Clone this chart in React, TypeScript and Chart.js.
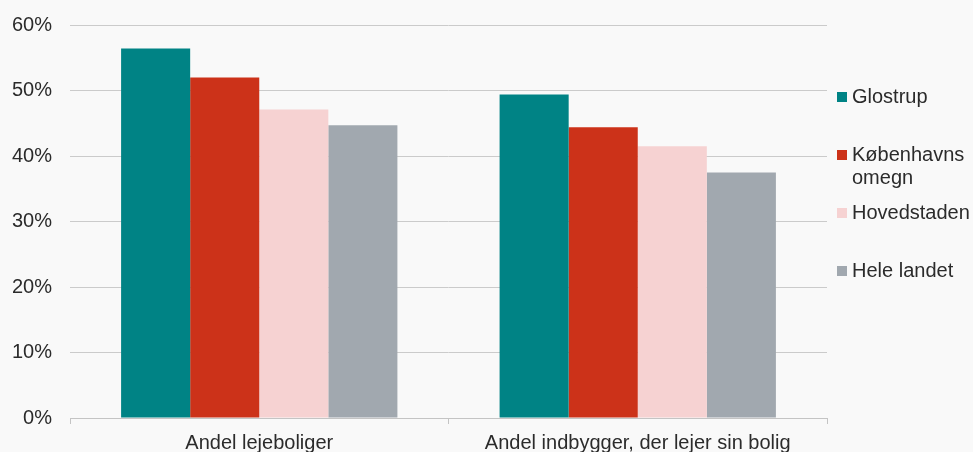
import React, { useEffect, useRef } from "react";
import { Chart, registerables } from "chart.js";

Chart.register(...registerables);

const categories = ["Andel lejeboliger", "Andel indbygger, der lejer sin bolig"];
const seriesNames = ["Glostrup", "Københavns omegn", "Hovedstaden", "Hele landet"];
const glostrup = [56.4, 49.4];
const kbhOmegn = [52.0, 44.4];
const hovedstaden = [47.1, 41.5];
const heleLandet = [44.7, 37.5];
const seriesColors = ["#008385", "#cc3219", "#f6d2d2", "#a1a8af"];
const yTicks = [0, 10, 20, 30, 40, 50, 60];

const FONT = "'Liberation Sans', Arial, Helvetica, sans-serif";
const TEXT = "#2b2b2b";

const legendPlugin = {
  id: "customLegend",
  afterDraw(chart: any) {
    const ctx = chart.ctx;
    const area = chart.chartArea;
    const boxX = area.right + 10;
    const textX = boxX + 15;
    const maxW = chart.width - textX;
    ctx.save();
    ctx.font = `20px ${FONT}`;
    ctx.textBaseline = "middle";
    ctx.textAlign = "left";
    chart.data.datasets.forEach((ds: any, i: number) => {
      const cy = area.top + 72 + 58 * i;
      ctx.fillStyle = ds.backgroundColor;
      ctx.fillRect(boxX, cy - 5, 10, 10);
      ctx.fillStyle = TEXT;
      const words = String(ds.label).split(" ");
      const lines: string[] = [];
      let cur = "";
      words.forEach((w) => {
        const test = cur ? cur + " " + w : w;
        if (cur && ctx.measureText(test).width > maxW) {
          lines.push(cur);
          cur = w;
        } else cur = test;
      });
      if (cur) lines.push(cur);
      lines.forEach((ln, j) => ctx.fillText(ln, textX, cy + 23 * j));
    });
    ctx.restore();
  },
};

export default function App() {
  const ref = useRef<HTMLCanvasElement>(null);
  useEffect(() => {
    if (!ref.current) return;
    const seriesData = [glostrup, kbhOmegn, hovedstaden, heleLandet];
    const chart = new Chart(ref.current, {
      type: "bar",
      data: {
        labels: categories,
        datasets: seriesNames.map((name, i) => ({
          label: name,
          data: seriesData[i],
          backgroundColor: seriesColors[i],
          borderWidth: 0,
          categoryPercentage: 0.73,
          barPercentage: 1,
        })),
      },
      options: {
        animation: false,
        responsive: true,
        maintainAspectRatio: false,
        layout: { padding: { left: 0, right: 146, top: 25, bottom: 0 } },
        plugins: {
          legend: { display: false },
          tooltip: { enabled: false },
        },
        scales: {
          x: {
            grid: {
              offset: true,
              drawOnChartArea: false,
              drawTicks: true,
              tickLength: 6,
              color: "#c4c4c4",
            },
            border: { display: true, color: "#c4c4c4" },
            ticks: {
              padding: 7,
              color: TEXT,
              font: { family: FONT, size: 20 },
              maxRotation: 0,
              autoSkip: false,
            },
            afterFit: (s: any) => {
              s.height = 34;
              s.paddingLeft = 0;
              s.paddingRight = 0;
            },
          },
          y: {
            min: 0,
            max: 60,
            afterBuildTicks: (s: any) => {
              s.ticks = yTicks.map((v) => ({ value: v }));
            },
            grid: { drawTicks: false, color: "#cbcbcb" },
            border: { display: false },
            ticks: {
              padding: 18,
              color: TEXT,
              font: { family: FONT, size: 20 },
              callback: (v: any) => `${v}%`,
            },
            afterFit: (s: any) => {
              s.width = 70;
              s.paddingTop = 0;
              s.paddingBottom = 0;
            },
          },
        },
      },
      plugins: [legendPlugin],
    });
    return () => chart.destroy();
  }, []);
  return (
    <div
      style={{
        position: "fixed",
        left: 0,
        top: 0,
        width: 973,
        height: 452,
        background: "#f9f9f9",
      }}
    >
      <canvas ref={ref} />
    </div>
  );
}
